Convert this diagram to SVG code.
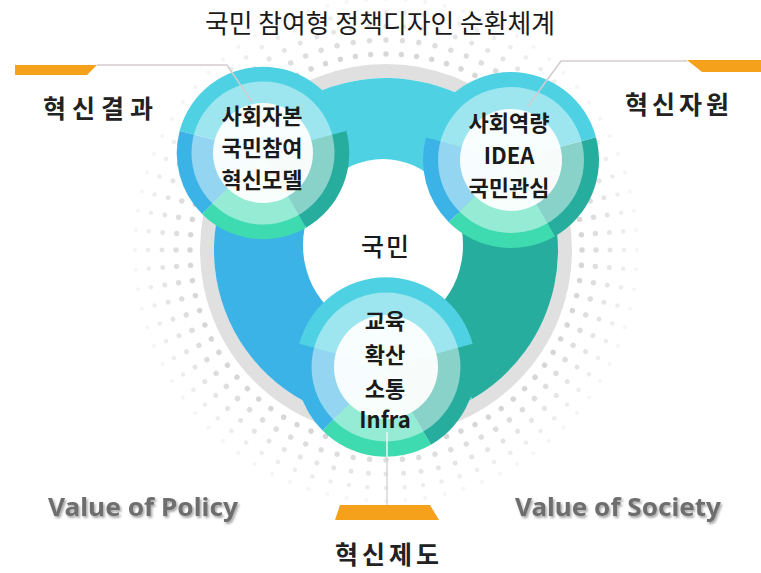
<svg xmlns="http://www.w3.org/2000/svg" xmlns:xlink="http://www.w3.org/1999/xlink" width="761" height="573" viewBox="0 0 761 573">
<style>
.kr{font-family:"Noto Sans CJK KR","Noto Sans",sans-serif;text-anchor:middle;fill:#1a1a1a}
.nt{font-size:22px;font-weight:700}
.lab{font-size:25px;font-weight:700;fill:#222}
.val{font-family:"Noto Sans","Liberation Sans",sans-serif;font-size:25px;font-weight:700;fill:#6e6e6e;text-anchor:middle}
.dots{fill:none;stroke:#bdbdbd;stroke-linecap:round}
.thin{fill:none;stroke:#d3cbd0;stroke-width:1.5}
.bar{fill:#f6a11c}
</style>
<defs>
<filter id="sh" x="-10%" y="-30%" width="120%" height="160%">
<feDropShadow dx="1.5" dy="2" stdDeviation="1.2" flood-color="#000" flood-opacity="0.35"/>
</filter>
<g id="disc">
<path fill="#27ad9e" d="M0,0 L85,-22.78 A88,88 0 0 1 44,76.21 Z"/>
<path fill="#3fdbb0" d="M0,0 L44,76.21 A88,88 0 0 1 -62.23,62.23 Z"/>
<path fill="#3cb3e6" d="M0,0 L-62.23,62.23 A88,88 0 0 1 -85,-22.78 Z"/>
<path fill="#4ed2e3" d="M0,0 L-85,-22.78 A88,88 0 0 1 85,-22.78 Z"/>
<circle r="73" fill="#fff" fill-opacity="0.45"/>
<circle r="51" fill="#fff" fill-opacity="0.93"/>
</g>
</defs>
<rect width="761" height="573" fill="#fff"/>

<g id="background">
<circle class="dots" cx="386" cy="250" r="196" pathLength="360" stroke-dasharray="0.001 4.499" stroke-width="5.5" opacity="0.6"/>
<circle class="dots" cx="386" cy="250" r="210" pathLength="360" stroke-dasharray="0.001 4.499" stroke-width="5.5" opacity="0.5"/>
<circle class="dots" cx="386" cy="250" r="224" pathLength="360" stroke-dasharray="0.001 4.499" stroke-width="5" opacity="0.4"/>
<circle class="dots" cx="386" cy="250" r="238" pathLength="360" stroke-dasharray="0.001 4.499" stroke-width="4.5" opacity="0.28"/>
<circle class="dots" cx="386" cy="250" r="251" pathLength="360" stroke-dasharray="0.001 4.499" stroke-width="4" opacity="0.15"/>
<circle cx="386" cy="250" r="179" fill="none" stroke="#e0e0e0" stroke-width="14"/>
</g>

<g id="band">
<path fill="#4ed2e3" d="M386,250 L251.4,142.9 A172,172 0 0 1 525.5,149.4 Z"/>
<path fill="#27ad9e" d="M386,250 L525.5,149.4 A172,172 0 0 1 472,399 Z"/>
<path fill="#3fdbb0" d="M386,250 L472,399 A172,172 0 0 1 356.1,419.4 Z"/>
<path fill="#3cb3e6" d="M386,250 L356.1,419.4 A172,172 0 0 1 251.4,142.9 Z"/>
<ellipse cx="383" cy="245" rx="80" ry="86" fill="#fff"/>
</g>

<g id="node-center">
<text class="kr" x="386" y="256" font-size="25" font-weight="500" letter-spacing="2">국민</text>
</g>

<g id="node-social-capital">
<use xlink:href="#disc" href="#disc" transform="translate(263,153) scale(0.98)"/>
<text class="kr nt" x="262" y="124">사회자본</text>
<text class="kr nt" x="262" y="156">국민참여</text>
<text class="kr nt" x="262" y="188">혁신모델</text>
</g>

<g id="node-social-capacity">
<use xlink:href="#disc" href="#disc" transform="translate(511,160)"/>
<text class="kr nt" x="509" y="131">사회역량</text>
<text class="kr nt" x="509" y="164">IDEA</text>
<text class="kr nt" x="509" y="196">국민관심</text>
</g>

<g id="node-infra">
<use xlink:href="#disc" href="#disc" transform="translate(386,367) scale(1.02)"/>
<text class="kr nt" x="385" y="329">교육</text>
<text class="kr nt" x="385" y="363">확산</text>
<text class="kr nt" x="385" y="397">소통</text>
<text class="kr nt" x="385" y="428">Infra</text>
</g>

<g id="connectors">
<polyline class="thin" points="97,65 227,65 252,102"/>
<polyline class="thin" points="687,61 561,61 528,106"/>
<line x1="387" y1="432" x2="387" y2="457" stroke="#eef6f4" stroke-width="1.5"/>
<line x1="387" y1="457" x2="387" y2="505" stroke="#d6d6d6" stroke-width="1.5"/>
<polygon class="bar" points="15,65 97,65 87,75 15,75"/>
<polygon class="bar" points="687,60 761,60 761,72 702,72"/>
<polygon class="bar" points="340,505 430,505 439,520 335,520"/>
</g>

<g id="labels">
<text class="kr" x="380" y="33" font-size="26" fill="#333" textLength="350" lengthAdjust="spacingAndGlyphs">국민 참여형 정책디자인 순환체계</text>
<text class="kr lab" x="98" y="118" textLength="110" lengthAdjust="spacing">혁신결과</text>
<text class="kr lab" x="677" y="114" textLength="104" lengthAdjust="spacing">혁신자원</text>
<text class="kr lab" x="387" y="564" textLength="104" lengthAdjust="spacing">혁신제도</text>
<text class="val" x="143" y="516" filter="url(#sh)" textLength="190" lengthAdjust="spacingAndGlyphs">Value of Policy</text>
<text class="val" x="618" y="516" filter="url(#sh)" textLength="206" lengthAdjust="spacingAndGlyphs">Value of Society</text>
</g>
</svg>
